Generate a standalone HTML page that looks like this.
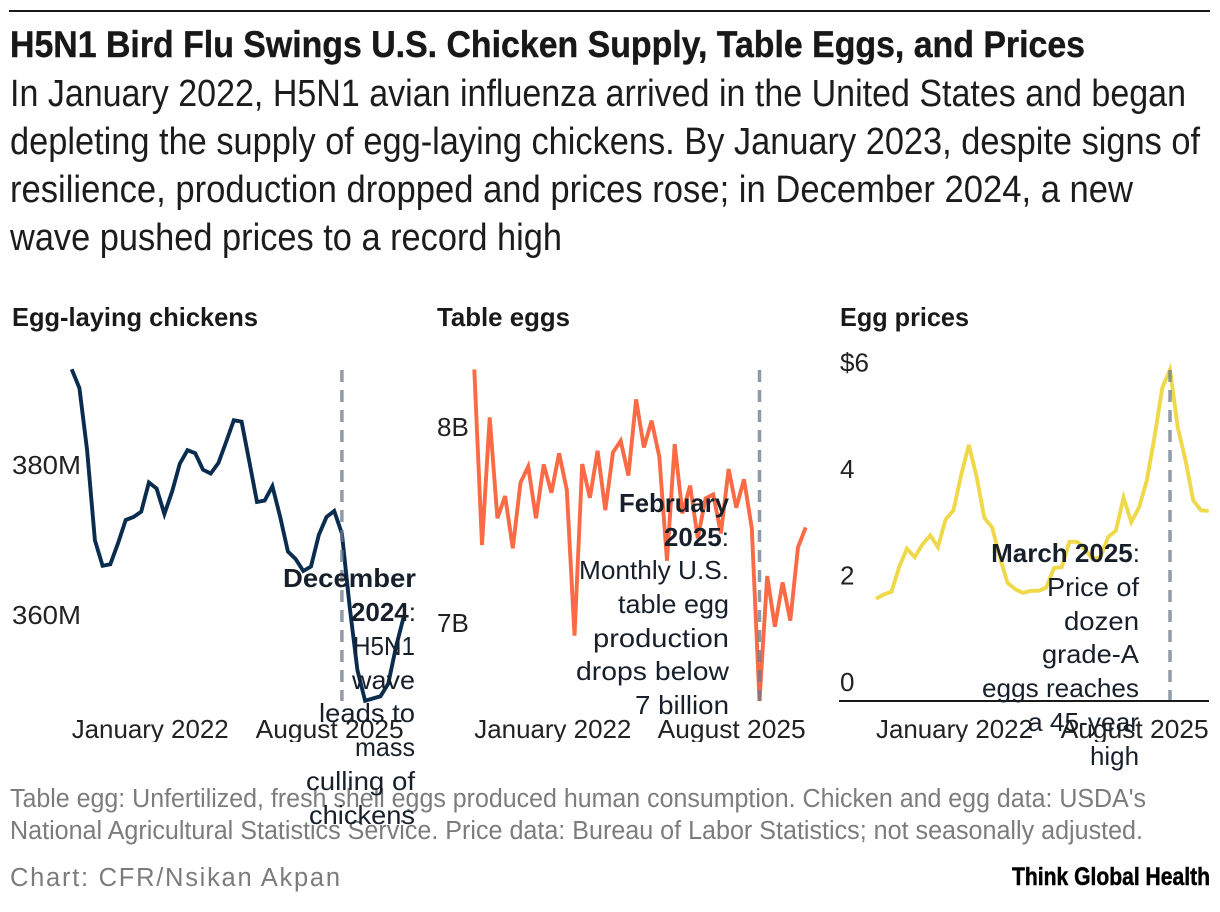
<!DOCTYPE html>
<html lang="en">
<head>
<meta charset="utf-8">
<title>H5N1 Bird Flu Swings U.S. Chicken Supply, Table Eggs, and Prices</title>
<style>
html,body{margin:0;padding:0;background:#fff;}
svg{display:block;font-family:"Liberation Sans",sans-serif;}
.title{font-size:37px;font-weight:700;fill:#181818;stroke:#181818;stroke-width:.4px;}
.sub{font-size:38px;fill:#1c1c1c;}
.head{font-size:26px;font-weight:700;fill:#1a1a1a;}
.note{font-size:25.5px;fill:#7c7c7c;}
.tick{font-size:26px;fill:#222;}
.ann{font-size:26px;fill:#17202a;}
.ann-b{font-size:26px;font-weight:700;fill:#17202a;}
</style>
</head>
<body>
<svg id="root" xmlns="http://www.w3.org/2000/svg" width="1220" height="912" viewBox="0 0 1220 912">
  <defs>
    <clipPath id="xclip"><rect x="0" y="700" width="1220" height="42"/></clipPath>
  </defs>
  <rect x="0" y="0" width="1220" height="912" fill="#fff"/>
  <rect x="9" y="10" width="1201" height="2" fill="#1a1a1a"/>
  <text class="title" x="10" y="57" textLength="1075" lengthAdjust="spacingAndGlyphs">H5N1 Bird Flu Swings U.S. Chicken Supply, Table Eggs, and Prices</text>
  <g>
    <text class="sub" x="10" y="106" textLength="1176" lengthAdjust="spacingAndGlyphs">In January 2022, H5N1 avian influenza arrived in the United States and began</text>
    <text class="sub" x="10" y="154" textLength="1190" lengthAdjust="spacingAndGlyphs">depleting the supply of egg-laying chickens. By January 2023, despite signs of</text>
    <text class="sub" x="10" y="202" textLength="1123" lengthAdjust="spacingAndGlyphs">resilience, production dropped and prices rose; in December 2024, a new</text>
    <text class="sub" x="10" y="250" textLength="552" lengthAdjust="spacingAndGlyphs">wave pushed prices to a record high</text>
  </g>
  <text class="head" x="12" y="326" textLength="246" lengthAdjust="spacingAndGlyphs">Egg-laying chickens</text>
  <text class="head" x="437" y="326" textLength="133" lengthAdjust="spacingAndGlyphs">Table eggs</text>
  <text class="head" x="840" y="326" textLength="129" lengthAdjust="spacingAndGlyphs">Egg prices</text>

  <g>
    <text class="note" x="10" y="807" textLength="1136" lengthAdjust="spacingAndGlyphs">Table egg: Unfertilized, fresh shell eggs produced human consumption. Chicken and egg data: USDA's</text>
    <text class="note" x="10" y="839" textLength="1133" lengthAdjust="spacingAndGlyphs">National Agricultural Statistics Service. Price data: Bureau of Labor Statistics; not seasonally adjusted.</text>
    <text class="note" x="10" y="886" textLength="330" lengthAdjust="spacing">Chart: CFR/Nsikan Akpan</text>
    <text x="1012" y="885" font-size="25" font-weight="700" fill="#000" stroke="#000" stroke-width="0.5" textLength="198" lengthAdjust="spacingAndGlyphs">Think Global Health</text>
  </g>

  <g id="panel-chickens"></g>
  <g id="panel-eggs"></g>
  <g id="panel-prices"></g>

  <rect x="839" y="700" width="370" height="2" fill="#1a1a1a"/>

  <g>
    <text class="ann-b" x="416" y="587" text-anchor="end" textLength="133" lengthAdjust="spacingAndGlyphs">December</text>
    <text class="ann" x="416" y="621" text-anchor="end"><tspan font-weight="700">2024</tspan>:</text>
    <text class="ann" x="415" y="655" text-anchor="end" textLength="62" lengthAdjust="spacingAndGlyphs">H5N1</text>
    <text class="ann" x="415" y="689" text-anchor="end" textLength="63" lengthAdjust="spacingAndGlyphs">wave</text>
    <text class="ann" x="415" y="722" text-anchor="end" textLength="96" lengthAdjust="spacingAndGlyphs">leads to</text>
    <text class="ann" x="415" y="756" text-anchor="end" textLength="60" lengthAdjust="spacingAndGlyphs">mass</text>
    <text class="ann" x="415" y="790" text-anchor="end" textLength="109" lengthAdjust="spacingAndGlyphs">culling of</text>
    <text class="ann" x="415" y="824" text-anchor="end" textLength="106" lengthAdjust="spacingAndGlyphs">chickens</text>
  </g>
  <g>
    <text class="ann-b" x="729" y="512" text-anchor="end" textLength="110" lengthAdjust="spacingAndGlyphs">February</text>
    <text class="ann" x="729" y="546" text-anchor="end"><tspan font-weight="700">2025</tspan>:</text>
    <text class="ann" x="729" y="579" text-anchor="end" textLength="150" lengthAdjust="spacingAndGlyphs">Monthly U.S.</text>
    <text class="ann" x="729" y="613" text-anchor="end" textLength="111" lengthAdjust="spacingAndGlyphs">table egg</text>
    <text class="ann" x="729" y="647" text-anchor="end" textLength="136" lengthAdjust="spacingAndGlyphs">production</text>
    <text class="ann" x="729" y="680" text-anchor="end" textLength="153" lengthAdjust="spacingAndGlyphs">drops below</text>
    <text class="ann" x="729" y="714" text-anchor="end" textLength="94" lengthAdjust="spacingAndGlyphs">7 billion</text>
  </g>
  <g>
    <text class="ann" x="1140" y="562" text-anchor="end"><tspan font-weight="700">March 2025</tspan>:</text>
    <text class="ann" x="1139" y="596" text-anchor="end" textLength="92" lengthAdjust="spacingAndGlyphs">Price of</text>
    <text class="ann" x="1139" y="630" text-anchor="end" textLength="75" lengthAdjust="spacingAndGlyphs">dozen</text>
    <text class="ann" x="1139" y="663" text-anchor="end" textLength="97" lengthAdjust="spacingAndGlyphs">grade-A</text>
    <text class="ann" x="1139" y="697" text-anchor="end" textLength="157" lengthAdjust="spacingAndGlyphs">eggs reaches</text>
    <text class="ann" x="1139" y="731" text-anchor="end" textLength="111" lengthAdjust="spacingAndGlyphs">a 45-year</text>
    <text class="ann" x="1139" y="765" text-anchor="end" textLength="49" lengthAdjust="spacingAndGlyphs">high</text>
  </g>
</svg>
<script>
const xTickLabels = ['January 2022', 'August 2025'];

const chickenTicks = [380, 360];
const chickenTickLabels = ['380M', '360M'];
const chickenValues = [395.3, 392.8, 384.5, 372.5, 369.1, 369.3, 372.1, 375.2, 375.6, 376.3, 380.2, 379.4, 376, 379, 382.7, 384.5, 384.1, 381.9, 381.4, 382.8, 385.6, 388.5, 388.3, 383, 377.6, 377.8, 379.7, 375.6, 371, 370, 368.4, 369, 373.2, 375.6, 376.4, 373.4, 363.6, 355.2, 351.1, 351.4, 351.7, 353.4, 358.3, 362.3];
const chickenEventMonth = 35;

const eggTicks = [8, 7];
const eggTickLabels = ['8B', '7B'];
const eggValues = [8.391, 7.495, 8.146, 7.631, 7.745, 7.478, 7.813, 7.895, 7.631, 7.906, 7.762, 7.963, 7.776, 7.032, 7.908, 7.736, 7.976, 7.673, 7.968, 8.026, 7.849, 8.238, 7.993, 8.129, 7.946, 7.415, 8.01, 7.656, 7.798, 7.529, 7.733, 7.753, 7.554, 7.883, 7.685, 7.83, 7.58, 6.699, 7.337, 7.078, 7.304, 7.109, 7.483, 7.585];
const eggEventMonth = 37;

const priceTicks = [6, 4, 2, 0];
const priceTickLabels = ['$6', '4', '2', '0'];
const priceValues = [1.92, 2.0, 2.05, 2.52, 2.86, 2.7, 2.94, 3.11, 2.89, 3.41, 3.58, 4.24, 4.81, 4.21, 3.44, 3.26, 2.7, 2.22, 2.1, 2.03, 2.07, 2.07, 2.13, 2.5, 2.51, 2.99, 2.99, 2.85, 2.67, 2.7, 3.08, 3.2, 3.82, 3.36, 3.64, 4.14, 4.96, 5.88, 6.22, 5.13, 4.52, 3.77, 3.58, 3.57];
const priceEventMonth = 38;

const NS = 'http://www.w3.org/2000/svg';
const PLOT_TOP = 369;
const PLOT_BOTTOM = 701;
const TICK_LABEL_LIFT = 10;

function makeY(domainMin, domainMax) {
  return function (v) {
    return PLOT_BOTTOM - (v - domainMin) / (domainMax - domainMin) * (PLOT_BOTTOM - PLOT_TOP);
  };
}
function makeX(left, right, count) {
  return function (i) {
    return left + i / (count - 1) * (right - left);
  };
}

function drawPanel(cfg) {
  const g = document.getElementById(cfg.id);
  const x = makeX(cfg.left, cfg.right, cfg.values.length);
  const y = makeY(cfg.min, cfg.max);

  cfg.ticks.forEach(function (t, i) {
    const label = document.createElementNS(NS, 'text');
    
    
    label.setAttribute('class', 'tick');
    label.setAttribute('x', cfg.axisX);
    label.setAttribute('y', (y(t) - TICK_LABEL_LIFT).toFixed(1));
    if (cfg.tickWidth) {
      label.setAttribute('textLength', cfg.tickWidth);
      label.setAttribute('lengthAdjust', 'spacingAndGlyphs');
    }
    label.textContent = cfg.tickLabels[i];
    g.appendChild(label);
  });

  const line = document.createElementNS(NS, 'polyline');
  
  
  line.setAttribute('fill', 'none');
  line.setAttribute('stroke', cfg.color);
  line.setAttribute('stroke-width', '3.9');
  line.setAttribute('stroke-linejoin', 'miter');
  line.setAttribute('points', cfg.values.map(function (v, i) {
    return x(i).toFixed(1) + ',' + y(v).toFixed(1);
  }).join(' '));
  g.appendChild(line);

  const rule = document.createElementNS(NS, 'line');
  
  
  rule.setAttribute('x1', x(cfg.event).toFixed(1));
  rule.setAttribute('x2', x(cfg.event).toFixed(1));
  rule.setAttribute('y1', PLOT_TOP + 1);
  rule.setAttribute('y2', PLOT_BOTTOM);
  rule.setAttribute('stroke', '#6b7a8c');
  rule.setAttribute('stroke-opacity', '0.75');
  rule.setAttribute('stroke-width', '3.5');
  rule.setAttribute('stroke-dasharray', '12 8');
  g.appendChild(rule);

  const first = document.createElementNS(NS, 'text');
  
  
  first.setAttribute('class', 'tick');
  first.setAttribute('x', x(0).toFixed(1));
  first.setAttribute('y', 738);
  first.setAttribute('clip-path', 'url(#xclip)');
  first.setAttribute('textLength', 157);
  first.setAttribute('lengthAdjust', 'spacingAndGlyphs');
  first.textContent = xTickLabels[0];
  g.appendChild(first);

  const last = document.createElementNS(NS, 'text');
  
  
  last.setAttribute('class', 'tick');
  last.setAttribute('x', x(cfg.values.length - 1).toFixed(1));
  last.setAttribute('y', 738);
  last.setAttribute('text-anchor', 'end');
  last.setAttribute('clip-path', 'url(#xclip)');
  last.setAttribute('textLength', 148);
  last.setAttribute('lengthAdjust', 'spacingAndGlyphs');
  last.textContent = xTickLabels[1];
  g.appendChild(last);
}

drawPanel({id: 'panel-chickens', values: chickenValues, ticks: chickenTicks, tickLabels: chickenTickLabels, event: chickenEventMonth, left: 71.7, right: 403.7, min: 351.07, max: 395.33, axisX: 12, tickWidth: 69, color: '#0a2d4f'});
drawPanel({id: 'panel-eggs', values: eggValues, ticks: eggTicks, tickLabels: eggTickLabels, event: eggEventMonth, left: 474.3, right: 805.7, min: 6.699, max: 8.393, axisX: 437, color: '#f96a45'});
drawPanel({id: 'panel-prices', values: priceValues, ticks: priceTicks, tickLabels: priceTickLabels, event: priceEventMonth, left: 876, right: 1208.7, min: 0, max: 6.235, axisX: 840, color: '#efd94b'});
</script>
</body>
</html>
